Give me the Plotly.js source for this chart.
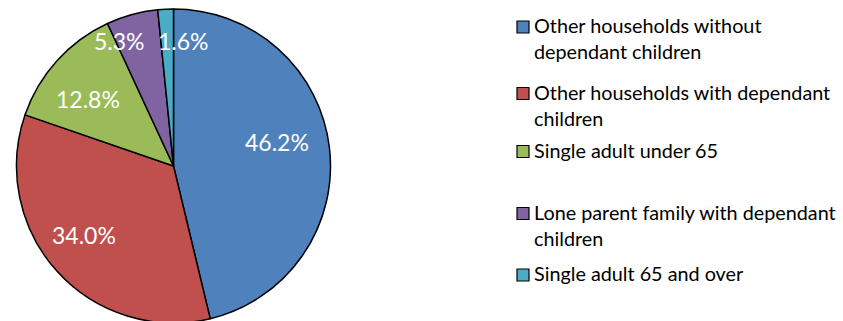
<!DOCTYPE html>
<html>
<head>
<meta charset="utf-8">
<script src="https://cdn.plot.ly/plotly-3.0.1.min.js"></script>
<style>
  html, body { margin: 0; padding: 0; overflow: hidden; background: #fff; }
  #chart { width: 843px; height: 330px; }
</style>
</head>
<body>
<div id="chart"></div>
<script>
// Household composition shares (%)
const categories = [
  'Other households without<br>dependant children',
  'Other households with dependant<br>children',
  'Single adult under 65',
  'Lone parent family with dependant<br>children',
  'Single adult 65 and over'
];
const shares = [46.2, 34.0, 12.8, 5.3, 1.6];
const sliceColors = ['#4F81BD', '#C0504D', '#9BBB59', '#8064A2', '#4BACC6'];

// Canvas and pie geometry (pixels from top-left)
const W = 843, H = 330;
const cx = 173.5, cy = 166, r = 157;

// Value-label placement: fraction of radius and angular nudge (degrees)
const labelRadius = [0.675, 0.72, 0.69, 0.86, 0.79];
const labelTurn = [-5.7, 4.2, -4.5, -8.1, 7.3];

// Legend rows: first-line centre of each entry (pixels from top)
const legendRowY = [27, 93.5, 151.5, 213.5, 275];
const legendBoxX = 517, legendBox = 12, legendTextX = 532;

const px = x => x / W;
const py = y => (H - y) / H;

const trace = {
  type: 'pie',
  labels: categories,
  values: shares,
  sort: false,
  direction: 'clockwise',
  rotation: 0,
  marker: { colors: sliceColors, line: { color: '#000', width: 1.5 } },
  textinfo: 'none',
  hoverinfo: 'none',
  showlegend: false,
  domain: { x: [px(cx - r), px(cx + r)], y: [py(cy + r), py(cy - r)] }
};

const total = shares.reduce((a, b) => a + b, 0);
const annotations = [];
const shapes = [];
let cum = 0;
shares.forEach((v, i) => {
  const midDeg = 360 * (cum + v / 2) / total + labelTurn[i];
  cum += v;
  const a = midDeg * Math.PI / 180;
  const rr = r * labelRadius[i];
  annotations.push({
    xref: 'paper', yref: 'paper',
    x: px(cx + rr * Math.sin(a)), y: py(cy - rr * Math.cos(a) - 1),
    xanchor: 'center', yanchor: 'middle',
    text: v.toFixed(1) + '%',
    showarrow: false,
    font: { family: 'Lato, sans-serif', size: 23, color: '#fff' }
  });
});

categories.forEach((name, i) => {
  const yc = legendRowY[i];
  shapes.push({
    type: 'rect', xref: 'paper', yref: 'paper',
    x0: px(legendBoxX), x1: px(legendBoxX + legendBox),
    y0: py(yc - legendBox / 2), y1: py(yc + legendBox / 2),
    fillcolor: sliceColors[i], line: { color: '#000', width: 1.2 }
  });
  annotations.push({
    xref: 'paper', yref: 'paper',
    x: px(legendTextX), y: py(yc - 16),
    xanchor: 'left', yanchor: 'top', align: 'left',
    text: name,
    showarrow: false,
    font: { family: 'Lato, sans-serif', size: 19.8, color: '#000' }
  });
});

const layout = {
  width: W,
  height: H,
  margin: { l: 0, r: 0, t: 0, b: 0 },
  paper_bgcolor: '#fff',
  showlegend: false,
  annotations: annotations,
  shapes: shapes
};

Plotly.newPlot('chart', [trace], layout, { staticPlot: true });
</script>
</body>
</html>
